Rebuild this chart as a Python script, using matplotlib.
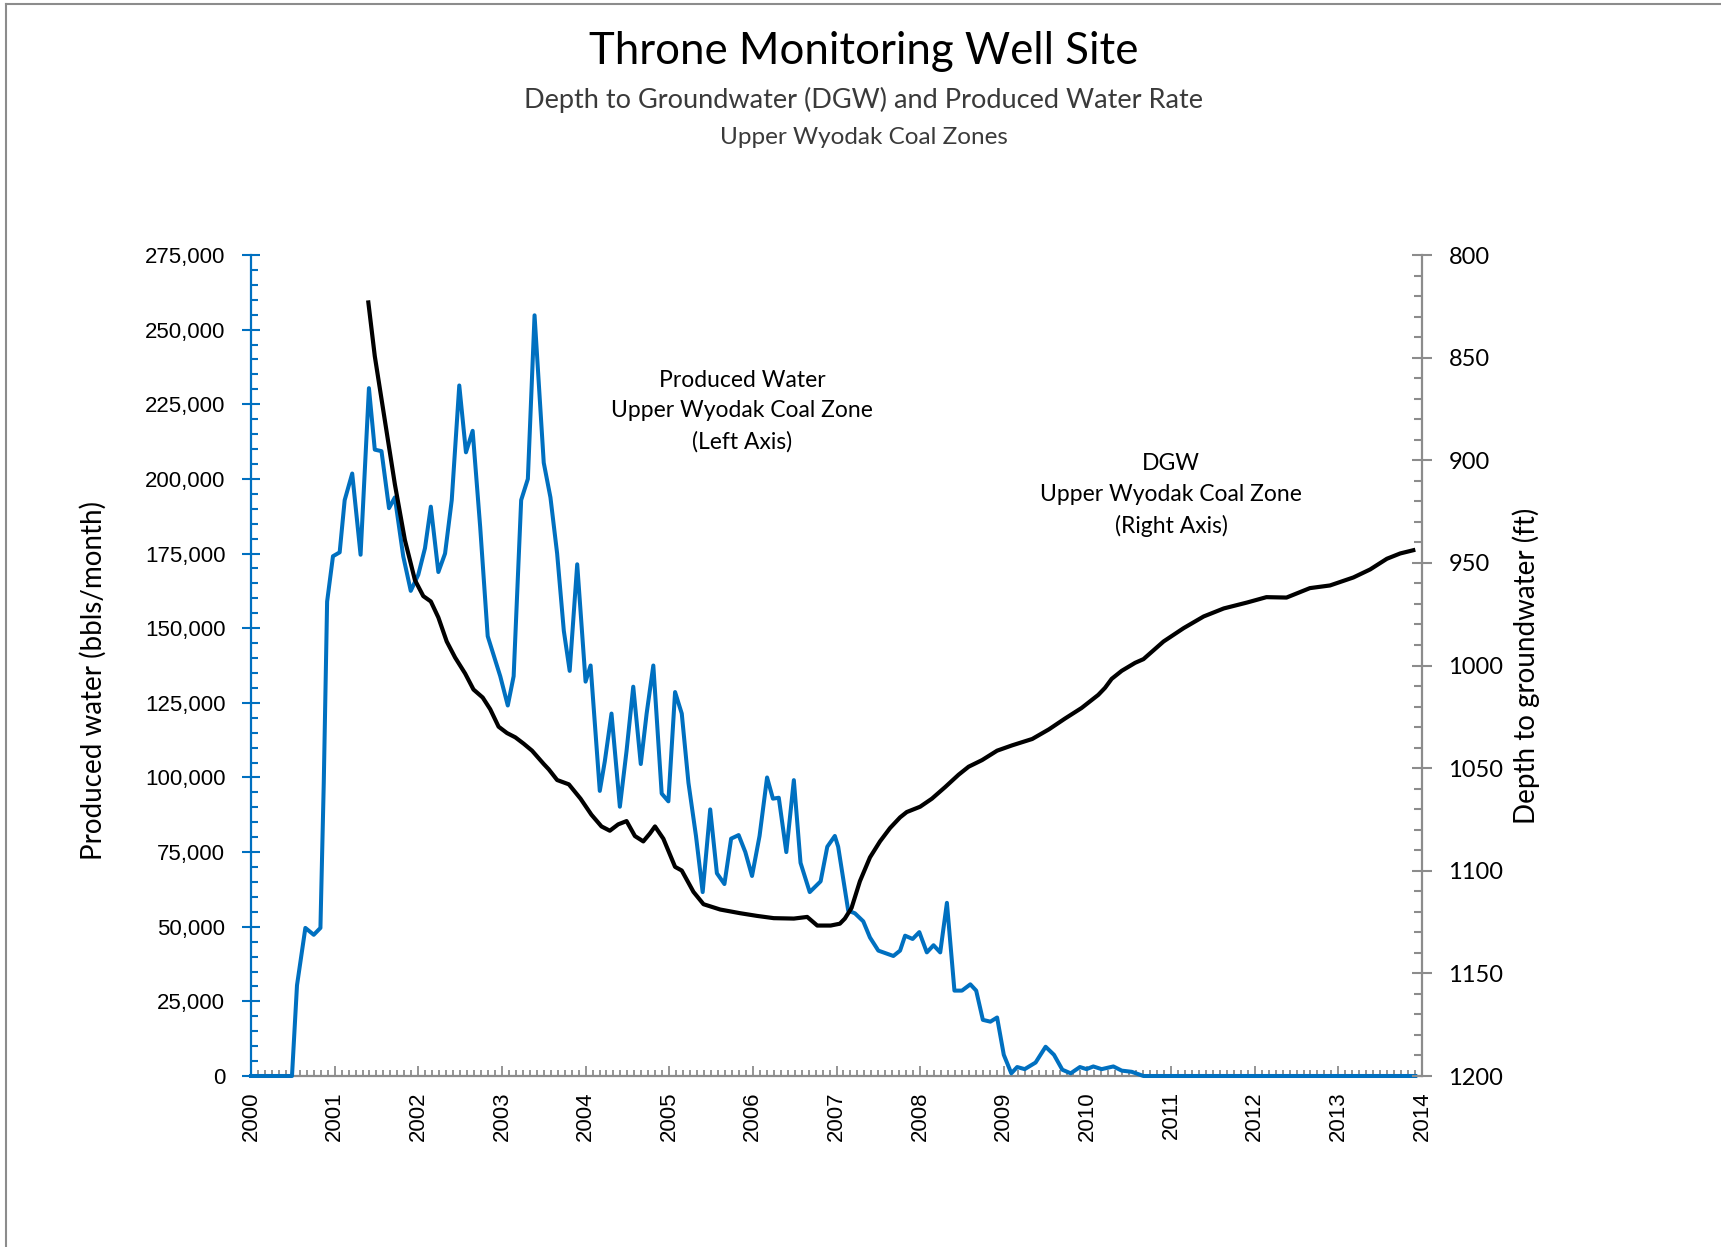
import matplotlib
matplotlib.use("Agg")
import matplotlib.pyplot as plt
from matplotlib.ticker import MultipleLocator, FuncFormatter
from matplotlib.lines import Line2D

# Produced water, Upper Wyodak coal zone (bbls/month)
prod_year = [2000.00, 2000.49, 2000.55, 2000.65, 2000.75, 2000.83, 2000.87, 2000.91,
             2000.98, 2001.06, 2001.12, 2001.21, 2001.31, 2001.41, 2001.48, 2001.56,
             2001.65, 2001.72, 2001.82, 2001.91, 2002.00, 2002.08, 2002.15, 2002.24,
             2002.32, 2002.40, 2002.49, 2002.57, 2002.65, 2002.74, 2002.83, 2002.98,
             2003.07, 2003.14, 2003.23, 2003.31, 2003.39, 2003.50, 2003.58, 2003.66,
             2003.74, 2003.81, 2003.90, 2004.00, 2004.06, 2004.17, 2004.23, 2004.31,
             2004.41, 2004.49, 2004.57, 2004.66, 2004.73, 2004.81, 2004.91, 2004.99,
             2005.07, 2005.15, 2005.23, 2005.32, 2005.40, 2005.49, 2005.57, 2005.66,
             2005.74, 2005.83, 2005.91, 2005.99, 2006.08, 2006.17, 2006.24, 2006.31,
             2006.40, 2006.49, 2006.57, 2006.68, 2006.81, 2006.89, 2006.98, 2007.02,
             2007.14, 2007.22, 2007.32, 2007.40, 2007.50, 2007.68, 2007.76, 2007.82,
             2007.91, 2007.99, 2008.08, 2008.16, 2008.24, 2008.32, 2008.41, 2008.50,
             2008.60, 2008.67, 2008.75, 2008.84, 2008.92, 2009.00, 2009.09, 2009.16,
             2009.25, 2009.38, 2009.50, 2009.60, 2009.70, 2009.80, 2009.91, 2009.99,
             2010.07, 2010.17, 2010.31, 2010.41, 2010.53, 2010.67, 2013.92]
prod_water = [0, 0, 30400, 49600, 47300, 49600, 98200, 158900,
              174100, 175400, 192900, 201800, 174600, 230400, 209800, 209300,
              190200, 193800, 174100, 162500, 167900, 176800, 190700, 168800,
              175000, 192900, 231300, 208900, 216100, 183900, 147300, 133900,
              124100, 133900, 192900, 200000, 254800, 205400, 193800, 175000,
              149100, 135700, 171400, 132100, 137500, 95500, 105400, 121400,
              90200, 108900, 130400, 104500, 121400, 137500, 94600, 92000,
              128600, 121400, 98200, 80400, 61600, 89300, 67900, 64300,
              79500, 80700, 75000, 67000, 80400, 100000, 92900, 93200,
              75000, 99100, 71400, 61600, 65200, 76800, 80400, 76800,
              55400, 54500, 51800, 46400, 42000, 40200, 42000, 47000,
              45900, 48200, 41400, 43800, 41400, 58000, 28600, 28600,
              30700, 28600, 18800, 18200, 19600, 7100, 900, 3000,
              2300, 4500, 9800, 7100, 2100, 900, 3000, 2300,
              3200, 2300, 3200, 1800, 1400, 0, 0]

# Depth to groundwater (ft), right axis
dgw_year = [2001.40, 2001.48, 2001.60, 2001.72, 2001.84, 2001.96, 2002.06, 2002.15,
            2002.24, 2002.34, 2002.44, 2002.56, 2002.66, 2002.77, 2002.86, 2002.96,
            2003.06, 2003.16, 2003.26, 2003.36, 2003.50, 2003.56, 2003.66, 2003.80,
            2003.94, 2004.07, 2004.19, 2004.29, 2004.39, 2004.49, 2004.59, 2004.69,
            2004.77, 2004.83, 2004.93, 2005.07, 2005.15, 2005.29, 2005.41, 2005.61,
            2005.85, 2006.05, 2006.25, 2006.49, 2006.65, 2006.77, 2006.93, 2007.04,
            2007.10, 2007.18, 2007.28, 2007.40, 2007.52, 2007.64, 2007.76, 2007.84,
            2008.00, 2008.14, 2008.30, 2008.46, 2008.58, 2008.74, 2008.92, 2009.10,
            2009.34, 2009.54, 2009.73, 2009.93, 2010.13, 2010.21, 2010.29, 2010.41,
            2010.57, 2010.67, 2010.91, 2011.15, 2011.39, 2011.63, 2011.91, 2012.14,
            2012.38, 2012.66, 2012.90, 2013.18, 2013.38, 2013.58, 2013.74, 2013.92]
dgw_depth = [822.1, 849.3, 880.5, 911.7, 938.9, 958.4, 966.2, 968.8,
             976.6, 988.3, 996.1, 1003.9, 1011.7, 1015.6, 1021.3, 1029.8,
             1032.9, 1035.0, 1038.1, 1041.5, 1048.0, 1050.6, 1055.8, 1057.9,
             1064.9, 1072.7, 1078.4, 1080.5, 1077.4, 1075.8, 1083.1, 1085.7,
             1081.8, 1078.4, 1084.4, 1098.1, 1099.9, 1110.3, 1116.3, 1118.9,
             1120.7, 1122.0, 1123.1, 1123.3, 1122.5, 1126.7, 1126.7, 1125.8,
             1123.3, 1118.1, 1105.1, 1093.5, 1085.7, 1079.2, 1074.0, 1071.4,
             1068.8, 1064.9, 1059.2, 1053.2, 1049.3, 1046.1, 1041.5, 1038.9,
             1035.8, 1031.1, 1025.9, 1020.7, 1014.3, 1010.9, 1006.5, 1002.6,
             998.7, 996.9, 988.3, 981.8, 976.1, 972.2, 969.3, 966.7,
             966.9, 962.3, 961.0, 957.1, 953.2, 948.0, 945.4, 943.6]

blue = "#0070C0"
grey = "#8C8C8C"
calibri_like = "Lato"
arial_like = "Liberation Sans"

fig = plt.figure(figsize=(17.21, 12.47), dpi=100)
ax = fig.add_axes([251 / 1721, 1 - 1076 / 1247, (1422 - 251) / 1721, (1076 - 255) / 1247])
ax2 = ax.twinx()

# produced water (left axis)
ax.plot(prod_year, prod_water, color=blue, lw=2.9, solid_joinstyle="round",
        clip_on=False, zorder=3)
ax.set_xlim(2000, 2014)
ax.set_ylim(0, 275000)
ax.yaxis.set_major_locator(MultipleLocator(25000))
ax.yaxis.set_minor_locator(MultipleLocator(5000))
ax.yaxis.set_major_formatter(FuncFormatter(lambda v, p: f"{int(v):,}"))
ax.xaxis.set_major_locator(MultipleLocator(1))
ax.xaxis.set_minor_locator(MultipleLocator(1 / 12))
ax.xaxis.set_major_formatter(FuncFormatter(lambda v, p: f"{int(round(v))}"))

ax.tick_params(axis="y", which="major", direction="inout", length=13, width=1.5,
               color=blue, labelsize=16, pad=12, labelcolor="black")
ax.tick_params(axis="y", which="minor", direction="in", length=5, width=1.5, color=blue)
ax.tick_params(axis="x", which="major", direction="in", length=7, width=1.3,
               color=grey, labelsize=16, pad=11, labelrotation=90)
ax.tick_params(axis="x", which="minor", direction="in", length=4.5, width=1.3, color=grey)
for lab in ax.get_yticklabels() + ax.get_xticklabels():
    lab.set_family(arial_like)

for s in ["top", "right"]:
    ax.spines[s].set_visible(False)
ax.spines["left"].set_color(blue)
ax.spines["left"].set_linewidth(1.6)
ax.spines["bottom"].set_color(grey)
ax.spines["bottom"].set_linewidth(1.6)

# depth to groundwater (right axis, inverted)
ax2.plot(dgw_year, dgw_depth, color="black", lw=3.0, solid_joinstyle="round",
         solid_capstyle="butt")
ax2.set_ylim(1200, 800)
ax2.yaxis.set_major_locator(MultipleLocator(50))
ax2.yaxis.set_minor_locator(MultipleLocator(10))
ax2.tick_params(axis="y", which="major", direction="inout", length=14, width=1.5,
                color=grey, labelsize=17, pad=12)
ax2.tick_params(axis="y", which="minor", direction="in", length=6, width=1.5, color=grey)
for lab in ax2.get_yticklabels():
    lab.set_family(calibri_like)
for s in ["top", "left", "bottom"]:
    ax2.spines[s].set_visible(False)
ax2.spines["right"].set_color(grey)
ax2.spines["right"].set_linewidth(1.6)

# series notes
ax.text(2005.87, 222700, "Produced Water\nUpper Wyodak Coal Zone\n(Left Axis)",
        ha="center", va="center", fontsize=16.5, family=calibri_like, linespacing=1.55)
ax.text(2011.0, 194600, "DGW\nUpper Wyodak Coal Zone\n(Right Axis)",
        ha="center", va="center", fontsize=16.5, family=calibri_like, linespacing=1.55)

# axis titles
fig.text(93 / 1721, 1 - 680 / 1247, "Produced water (bbls/month)", rotation=90,
         ha="center", va="center", fontsize=20, family=calibri_like)
fig.text(1526 / 1721, 1 - 666 / 1247, "Depth to groundwater (ft)", rotation=90,
         ha="center", va="center", fontsize=20, family=calibri_like)

# titles
fig.text(0.502, 1 - 52 / 1247, "Throne Monitoring Well Site", ha="center", va="center",
         fontsize=31.5, family=calibri_like, color="black")
fig.text(0.502, 1 - 100 / 1247, "Depth to Groundwater (DGW) and Produced Water Rate",
         ha="center", va="center", fontsize=19.5, family=calibri_like, color="#3a3a3a")
fig.text(0.502, 1 - 137 / 1247, "Upper Wyodak Coal Zones", ha="center", va="center",
         fontsize=17.5, family=calibri_like, color="#3a3a3a")

# frame edges of the original chart area
fig.add_artist(Line2D([6 / 1721, 1], [1 - 4 / 1247, 1 - 4 / 1247], color=grey, lw=1.5))
fig.add_artist(Line2D([6 / 1721, 6 / 1721], [0, 1 - 4 / 1247], color=grey, lw=1.5))

fig.savefig("out.png", dpi=100)
